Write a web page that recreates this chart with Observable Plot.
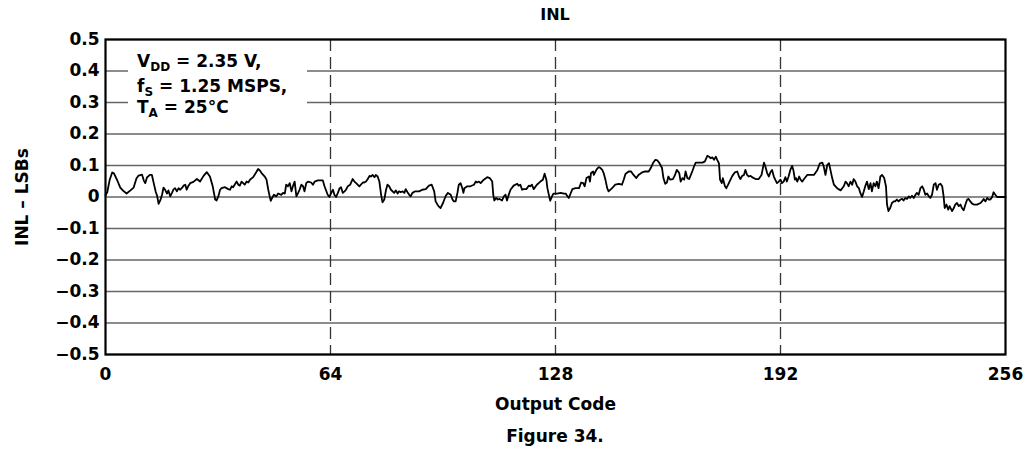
<!DOCTYPE html>
<html><head><meta charset="utf-8">
<script src="https://cdn.jsdelivr.net/npm/d3@7"></script>
<script src="https://cdn.jsdelivr.net/npm/@observablehq/plot@0.6"></script>
<style>
body{margin:0;background:#fff;font-family:"DejaVu Sans",sans-serif;font-weight:bold;color:#000;}
#wrap{position:relative;width:1028px;height:450px;overflow:hidden;}
#title{position:absolute;left:105px;width:900px;top:0;height:30px;line-height:30px;text-align:center;font-size:16px;}
#chart{position:absolute;left:0;top:28px;}
#legend{position:absolute;left:128px;top:43px;}
#caption{position:absolute;left:105px;width:900px;top:422px;line-height:28px;text-align:center;font-size:17px;}
</style>
</head><body>
<div id="wrap">
  <div id="title">INL</div>
  <div id="chart"></div>
  <svg id="legend" width="179" height="84" font-family="DejaVu Sans" font-weight="bold" font-size="17">
    <rect width="179" height="84" fill="#fff"></rect>
    <text x="9" y="24.3">V<tspan font-size="12" dy="4">DD</tspan><tspan dy="-4"> = 2.35 V,</tspan></text>
    <text x="9" y="48.7">f<tspan font-size="12" dy="4">S</tspan><tspan dy="-4"> = 1.25 MSPS,</tspan></text>
    <text x="9" y="70.3">T<tspan font-size="12" dy="4">A</tspan><tspan dy="-4"> = 25°C</tspan></text>
  </svg>
  <div id="caption">Figure 34.</div>
</div>
<script>
const xTicks = [0, 64, 128, 192, 256];
const xTickLabels = ["0", "64", "128", "192", "256"];
const dashedCodes = [64, 128, 192];
const yTicks = [-0.5, -0.4, -0.3, -0.2, -0.1, 0, 0.1, 0.2, 0.3, 0.4, 0.5];
const yTickLabels = ["\u22120.5", "\u22120.4", "\u22120.3", "\u22120.2", "\u22120.1", "0", "0.1", "0.2", "0.3", "0.4", "0.5"];

const codes = [
0,0.5,1.2,1.9,2.4,3.3,4.2,5.2,6.0,7.1,8.0,8.8,9.4,10.4,10.9,11.3,11.8,12.6,13.2,13.7,14.3,14.7,15.1,15.6,16.1,16.5,17.0,17.5,17.9,18.4,18.9,19.4,19.8,20.3,20.8,21.2,21.7,22.2,22.7,23.1,23.6,24.1,25.0,26.0,26.9,27.9,28.8,29.7,30.5,31.2,
31.6,32.1,32.6,33.0,34.0,34.9,35.4,35.9,36.3,37.3,37.8,38.2,38.7,39.6,40.1,40.6,41.1,42.0,43.0,43.4,43.9,44.4,45.3,45.8,46.3,46.7,47.0,47.4,47.9,48.6,49.1,50.0,50.5,51.0,51.4,51.9,52.4,52.9,53.3,53.8,54.3,54.8,55.2,55.7,56.2,56.6,57.1,57.6,58.5,59.0,59.5,60.4,61.4,61.8,62.3,63.2,63.7,
64.2,64.7,65.1,65.6,66.1,66.6,67.0,67.5,68.0,68.4,68.9,69.6,70.3,70.8,71.3,72.2,73.2,73.6,74.1,74.6,75.1,75.5,76.0,76.5,76.9,77.4,77.9,78.4,78.8,79.3,79.8,80.2,80.7,81.2,82.1,82.6,83.1,83.5,84.0,84.5,85.0,85.4,85.9,86.4,86.8,87.3,88.1,89.2,90.1,91.1,92.0,92.8,93.5,93.9,94.7,95.3,96.0,
96.8,97.4,98.2,98.7,99.1,99.6,100.1,100.5,101.0,101.5,101.8,102.1,102.9,103.8,104.8,105.3,105.7,106.2,106.7,107.6,108.6,109.3,110.0,110.3,110.6,111.1,111.6,112.1,112.8,113.3,113.8,114.2,114.7,115.2,116.1,117.1,117.5,118.0,118.5,118.9,119.7,120.4,120.8,121.3,121.8,122.7,123.7,124.4,124.9,125.4,125.7,126.2,126.5,127.0,127.4,128.4,
129.5,130.4,130.9,131.4,131.8,132.3,132.8,133.7,134.7,135.3,135.9,136.3,136.8,137.5,137.8,138.1,138.7,138.9,139.7,140.3,140.8,141.3,141.7,142.2,142.7,143.1,144.1,145.0,146.0,146.9,147.4,147.9,148.8,149.5,150.2,151.0,151.6,152.6,153.5,154.5,155.1,155.7,156.4,157.0,157.6,158.3,158.7,159.2,159.7,160.1,160.6,161.4,162.0,162.5,
163.2,163.6,164.1,164.6,165.0,165.5,166.0,166.5,167.0,167.4,167.9,168.8,169.8,170.5,171.2,171.7,172.1,172.6,173.1,173.6,174.0,174.5,174.8,175.3,175.6,176.2,176.6,177.1,177.5,178.3,179.0,179.7,180.2,180.6,181.1,181.6,182.0,182.5,183.0,183.5,183.9,184.9,185.8,186.6,187.0,187.3,187.7,188.2,188.7,189.1,189.6,190.1,190.5,191.0,191.5,192.0,192.4,192.9,193.4,193.8,194.3,194.8,195.3,
195.7,196.1,196.4,196.8,197.3,197.7,198.2,198.7,199.6,200.6,201.5,202.5,203.2,203.9,204.3,204.8,205.3,205.8,206.2,206.7,207.2,208.1,209.1,210.0,210.5,210.9,211.4,211.9,212.4,212.8,213.3,213.8,214.3,214.7,215.2,215.7,216.1,216.6,217.1,217.6,218.0,218.5,219.0,219.4,219.9,220.4,220.9,221.5,222.0,222.3,222.7,223.2,223.7,224.2,224.6,225.1,225.6,
226.1,226.6,227.0,227.5,228.0,228.5,228.9,229.4,229.9,230.4,230.8,231.3,231.8,232.3,232.7,233.2,233.7,234.2,234.6,235.1,235.6,236.1,236.5,237.0,237.5,238.0,238.4,238.7,239.2,239.7,240.1,240.8,241.3,241.7,242.2,242.7,243.2,243.6,244.1,244.6,245.1,245.5,246.0,246.5,247.0,247.9,248.9,249.3,249.8,250.3,250.8,251.2,251.7,252.2,252.6,253.1,253.6,254.1,255.0,256
];

const inl = [
0.005,0.015,0.055,0.078,0.075,0.054,0.03,0.018,0.011,0.021,0.03,0.059,0.068,0.071,0.052,0.044,0.062,0.07,0.07,0.045,0.016,0.003,-0.022,-0.01,0.008,0.03,0.022,0.011,0.021,0.002,0.013,0.025,0.028,0.018,0.028,0.023,0.028,0.036,0.039,0.023,0.036,0.044,0.048,0.057,0.049,0.067,0.079,0.065,0.034,-0.008,
-0.011,0.002,0.023,0.028,0.031,0.025,0.023,0.034,0.031,0.049,0.039,0.036,0.049,0.039,0.049,0.046,0.055,0.063,0.081,0.089,0.084,0.076,0.065,0.055,0.023,0.002,-0.012,-0.003,0.007,0.002,0.011,0.007,0.013,0.011,0.039,0.034,0.044,0.018,0.034,0.049,0.002,0.013,0.023,0.039,0.034,0.018,0.044,0.049,0.046,0.039,0.049,0.053,0.053,0.053,0.034,0.007,0.0,
0.013,0.023,0.007,0.0,0.013,0.028,0.031,0.013,0.018,0.023,0.034,0.039,0.057,0.049,0.044,0.034,0.046,0.046,0.049,0.057,0.067,0.065,0.07,0.063,0.07,0.065,0.049,0.007,-0.017,-0.008,0.023,0.039,0.034,0.023,0.013,0.021,0.011,0.018,0.015,0.018,0.013,0.025,0.015,0.007,0.002,0.013,0.018,0.018,0.023,0.025,0.036,0.039,0.018,-0.014,-0.029,-0.035,-0.019,
0.004,0.013,0.007,-0.008,-0.014,-0.014,0.013,0.039,0.044,0.028,0.013,0.028,0.034,0.034,0.039,0.049,0.046,0.049,0.044,0.055,0.063,0.06,0.049,0.007,-0.011,-0.003,-0.008,-0.006,-0.011,0.002,0.007,-0.011,0.007,0.023,0.036,0.042,0.036,0.039,0.023,0.025,0.025,0.036,0.034,0.039,0.025,0.039,0.049,0.055,0.074,0.055,0.028,0.002,-0.012,0.002,0.011,0.011,
0.013,0.011,0.011,0.002,-0.003,0.011,0.025,0.028,0.028,0.046,0.044,0.034,0.06,0.065,0.049,0.076,0.081,0.07,0.088,0.095,0.092,0.086,0.076,0.055,0.028,0.018,0.028,0.039,0.042,0.039,0.055,0.073,0.081,0.081,0.07,0.06,0.07,0.078,0.081,0.081,0.092,0.107,0.118,0.116,0.107,0.092,0.06,0.042,0.046,0.065,0.055,0.057,0.07,0.086,
0.076,0.049,0.06,0.055,0.081,0.06,0.057,0.07,0.084,0.097,0.109,0.109,0.109,0.113,0.131,0.128,0.123,0.126,0.118,0.128,0.118,0.107,0.055,0.044,0.06,0.034,0.028,0.039,0.049,0.067,0.078,0.081,0.065,0.057,0.067,0.07,0.086,0.07,0.065,0.067,0.063,0.057,0.057,0.07,0.092,0.109,0.097,0.076,0.065,0.078,0.086,0.065,0.055,0.044,0.049,0.055,0.044,0.049,0.063,0.049,0.065,0.086,0.099,
0.083,0.055,0.06,0.049,0.065,0.055,0.049,0.057,0.07,0.07,0.07,0.086,0.107,0.109,0.097,0.07,0.102,0.107,0.086,0.06,0.039,0.028,0.021,0.034,0.049,0.044,0.034,0.049,0.039,0.057,0.049,0.034,0.028,0.013,0.0,0.018,0.034,0.049,0.025,0.044,0.018,0.044,0.034,0.049,0.028,0.065,0.07,0.06,0.034,-0.024,-0.045,-0.035,-0.019,-0.014,-0.014,-0.008,-0.014,
-0.008,-0.006,-0.011,-0.003,-0.006,0.002,-0.003,0.004,-0.003,0.007,0.013,0.007,0.028,0.034,0.025,0.007,0.011,0.002,-0.003,0.007,0.039,0.044,0.023,0.039,0.042,0.034,0.002,-0.035,-0.024,-0.04,-0.029,-0.045,-0.035,-0.024,-0.019,-0.029,-0.024,-0.035,-0.042,-0.024,-0.008,-0.006,-0.014,-0.021,-0.024,-0.024,-0.019,-0.014,-0.006,-0.014,-0.003,-0.008,-0.008,0.0,0.015,0.007,0.0,0.0,0.0,0.0
];

const data = codes.map((c, i) => ({code: c, inl: inl[i]}));

const chart = Plot.plot({
  width: 1028,
  height: 387,
  marginLeft: 105,
  marginRight: 23,
  marginTop: 11,
  marginBottom: 61,
  style: {fontFamily: "DejaVu Sans", fontSize: "17px", fontWeight: "bold", color: "#000", background: "transparent", overflow: "visible"},
  x: {domain: [0, 256]},
  y: {domain: [-0.5, 0.5]},
  marks: [
    Plot.ruleY(yTicks, {stroke: "#666", strokeWidth: 1.5}),
    Plot.ruleX(dashedCodes, {stroke: "#333", strokeWidth: 1.3, strokeDasharray: "12,6"}),
    Plot.line(data, {x: "code", y: "inl", stroke: "#000", strokeWidth: 1.8, strokeLinejoin: "round"}),
    Plot.frame({stroke: "#000", strokeWidth: 2.2}),
    Plot.axisX(xTicks, {tickSize: 0, tickPadding: 13, tickFormat: d => xTickLabels[xTicks.indexOf(d)], label: "Output Code", labelAnchor: "center", labelArrow: "none", labelOffset: 55}),
    Plot.axisY(yTicks, {tickSize: 0, tickPadding: 6, tickFormat: d => yTickLabels[yTicks.indexOf(d)], label: "INL \u2013 LSBs", labelAnchor: "center", labelArrow: "none", labelOffset: 90})
  ]
});
document.getElementById("chart").appendChild(chart);
</script>
</body></html>
